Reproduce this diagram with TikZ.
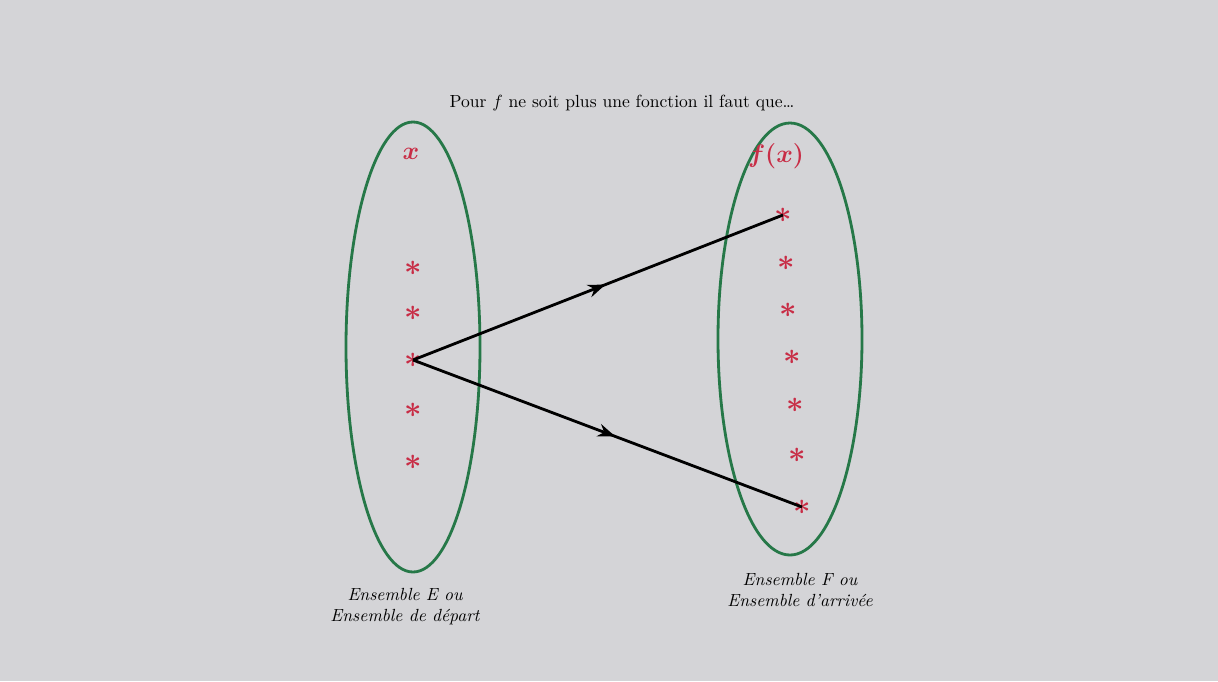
\documentclass[tikz,border=0pt]{standalone}
\usepackage{xcolor}
\usetikzlibrary{arrows.meta, shapes.geometric, decorations.markings}
\definecolor{setgreen}{RGB}{38,120,72}
\definecolor{starred}{RGB}{200,45,70}
\definecolor{screen}{RGB}{212,212,215}

\begin{document}
\begin{tikzpicture}[x=0.02cm, y=-0.02cm, >={Stealth[length=3.5mm, width=2.6mm]},
  setbox/.style={ellipse, draw=setgreen, line width=1.6pt, inner sep=0pt},
  elem/.style={text=starred, font=\LARGE\boldmath, inner sep=0pt},
  varlab/.style={text=starred, font=\Large\boldmath},
  maps/.style={line width=1.6pt, postaction={decorate}, decoration={markings, mark=at position 0.52 with {\arrow{>}}}},
  every node/.style={font=\normalsize}]
  \fill[screen] (0,0) rectangle (1218,681);

  \node[setbox, minimum width=134*0.02cm, minimum height=450*0.02cm] (setE) at (413,347) {};
  \node[setbox, minimum width=144*0.02cm, minimum height=432*0.02cm] (setF) at (790,339) {};

  \node (title) at (622,103) {Pour $f$ ne soit plus une fonction il faut que\dots};
  \node[varlab] (varx) at (411,154) {$x$};
  \node[varlab] (varfx) at (776,156) {$f(x)$};

  % elements of E and F
  \foreach \i/\yy in {1/268, 2/313, 3/360, 4/410, 5/462}
    \node[elem] (l\i) at (413,\yy) {$\ast$};
  \foreach \i/\xx/\yy in {1/783/215, 2/786/263, 3/788/310, 4/792/357, 5/795/405, 6/797/455, 7/802/507}
    \node[elem] (r\i) at (\xx,\yy) {$\ast$};

  \draw[maps] (l3.center) -- (r1.center);
  \draw[maps] (l3.center) -- (r7.center);

  \node[align=center, font=\normalsize\itshape] (labE) at (405,607) {Ensemble E ou\\Ensemble de départ};
  \node[align=center, font=\normalsize\itshape] (labF) at (800,590) {Ensemble F ou\\Ensemble d'arrivée};
\end{tikzpicture}
\end{document}
